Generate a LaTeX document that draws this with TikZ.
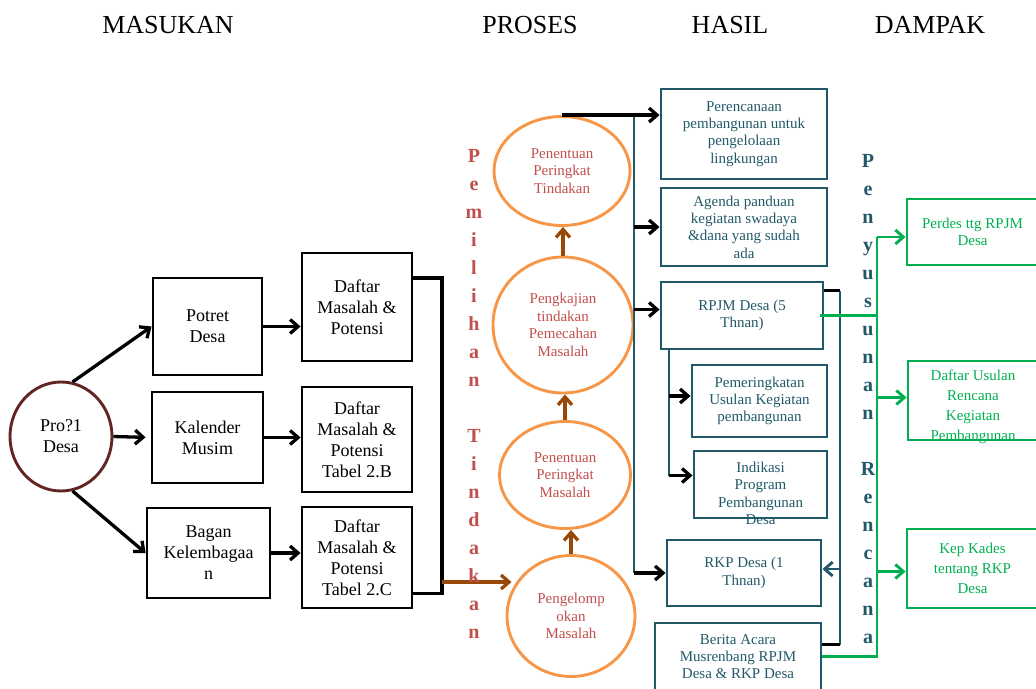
\documentclass[tikz,border=0pt]{standalone}
\usepackage{fontspec}
\setmainfont{Liberation Serif}
\usetikzlibrary{arrows.meta,shapes.geometric}

\definecolor{tealc}{HTML}{215968}
\definecolor{redc}{HTML}{C0504D}
\definecolor{orangec}{HTML}{F79646}
\definecolor{brownc}{HTML}{984807}
\definecolor{greenc}{HTML}{00B050}
\definecolor{circc}{HTML}{632523}

\tikzset{
  inbox/.style={draw, line width=2.9pt, inner sep=0pt, align=center, font=\fontsize{18}{21}\selectfont},
  procell/.style={ellipse, draw=orangec, line width=2.9pt, inner sep=0pt, align=center, text=redc, font=\fontsize{15}{17.5}\selectfont},
  outbox/.style={draw=tealc, line width=2.9pt, inner sep=0pt, align=center, text=tealc, font=\fontsize{15}{17.3}\selectfont},
  effbox/.style={draw=greenc, line width=2.9pt, inner sep=0pt, align=center, text=greenc, font=\fontsize{15}{20}\selectfont},
  head/.style={anchor=base, font=\fontsize{26}{30}\selectfont},
  vletter/.style={anchor=base, font=\fontsize{20}{20}\selectfont\bfseries},
  tip/.style={-{Straight Barb[length=8pt,width=14pt]}},
  blk/.style={line width=3.3pt, tip},
  bline/.style={line width=3.3pt},
  brn/.style={brownc, line width=3.3pt, tip},
  tline/.style={tealc, line width=2.9pt},
  gline/.style={greenc, line width=2.9pt},
}

\begin{document}
\begin{tikzpicture}[x=1pt, y=-1pt]
	\useasboundingbox (0,0) rectangle (1036,688);
	\clip (0,0) rectangle (1036,688);
	
	% column titles
	\node[head] (tMasukan) at (168,33) {MASUKAN};
	\node[head] (tProses) at (530,33) {PROSES};
	\node[head] (tHasil) at (730,33) {HASIL};
	\node[head] (tDampak) at (930,33) {DAMPAK};
	
	% masukan
	\node[ellipse, draw=circc, line width=2.9pt, inner sep=0pt, align=center, minimum width=102pt, minimum height=109pt, font=\fontsize{18}{21}\selectfont] (profil) at (61,436.5) {Pro?1\\Desa};
	\node[inbox, minimum width=109pt, minimum height=97pt] (potret) at (207.5,326.5) {Potret\\Desa};
	\node[inbox, minimum width=111pt, minimum height=91pt] (kalender) at (207.5,437.5) {Kalender\\Musim};
	\node[inbox, minimum width=123pt, minimum height=90pt] (bagan) at (208.5,553) {Bagan\\Kelembagaa\\n};
	\node[inbox, minimum width=110pt, minimum height=108pt] (daftarA) at (357,307) {Daftar\\Masalah \&\\Potensi};
	\node[inbox, minimum width=110pt, minimum height=105pt] (daftarB) at (357,439.5) {Daftar\\Masalah \&\\Potensi\\Tabel 2.B};
	\node[inbox, minimum width=110pt, minimum height=101pt] (daftarC) at (357,557.5) {Daftar\\Masalah \&\\Potensi\\Tabel 2.C};
	
	\draw[blk] (profil.78) -- (potret.west);
	\draw[blk, shorten >=5pt] (profil.east) -- (kalender.west);
	\draw[blk] (profil.-78) -- (bagan.west);
	\draw[blk] (potret.east) -- (potret.east -| daftarA.west);
	\draw[blk] (kalender.east) -- (kalender.east -| daftarB.west);
	\draw[blk] (bagan.east) -- (bagan.east -| daftarC.west);
	\coordinate (brk) at (442,582);
	\draw[bline] ([yshift=29pt]daftarA.east) -| ([yshift=-36pt]daftarC.east -| brk) -- ([yshift=-36pt]daftarC.east);
	
	% proses
	\node[procell, minimum width=136pt, minimum height=109pt] (tindakan) at (562,171) {Penentuan\\Peringkat\\Tindakan};
	\node[procell, minimum width=140pt, minimum height=136pt] (pengkajian) at (563,325) {Pengkajian\\tindakan\\Pemecahan\\Masalah};
	\node[procell, minimum width=131pt, minimum height=107pt] (pmasalah) at (565,475) {Penentuan\\Peringkat\\Masalah};
	\node[procell, minimum width=128pt, minimum height=121pt] (kelompok) at (571,616) {Pengelomp\\okan\\Masalah};
	
	\draw[brn] (brk) -- ([xshift=6pt]brk -| kelompok.west);
	\draw[brn] (kelompok.north) -- (kelompok.north |- pmasalah.south);
	\draw[brn] (pmasalah.north) -- (pmasalah.north |- pengkajian.south);
	\draw[brn] (pengkajian.north) -- (pengkajian.north |- tindakan.south);
	
	\foreach \ch [count=\i from 0] in {P,e,m,i,l,i,h,a,n}
	\node[vletter, text=redc] (pa\i) at (474,162+28*\i) {\ch};
	\foreach \ch [count=\i from 10] in {T,i,n,d,a,k,a,n}
	\node[vletter, text=redc] (pb\i) at (474,162+28*\i) {\ch};
	
	% hasil
	\node[outbox, minimum width=166pt, minimum height=90pt] (peren) at (744,134) {Perencanaan\\pembangunan untuk\\pengelolaan\\lingkungan};
	\node[outbox, minimum width=166pt, minimum height=78pt] (agenda) at (744,227) {Agenda panduan\\kegiatan swadaya\\\&dana yang sudah\\ada};
	\node[outbox, minimum width=162pt, minimum height=67pt] (rpjm) at (742,315.5) {RPJM Desa (5\\Thnan)};
	\node[outbox, minimum width=135pt, minimum height=72pt] (peringkat) at (759.5,401) {Pemeringkatan\\Usulan Kegiatan\\pembangunan};
	\node[outbox, minimum width=133pt, minimum height=67pt] (indikasi) at (760.5,484.5) {};
	\node[text=tealc, align=center, font=\fontsize{15}{17.3}\selectfont] (indikasiT) at ([yshift=-9pt]indikasi.center) {Indikasi\\Program\\Pembangunan\\Desa};
	\node[outbox, minimum width=154pt, minimum height=66pt] (rkp) at (744,573) {RKP Desa (1\\Thnan)};
	\node[outbox, minimum width=166pt, minimum height=67pt] (berita) at (738,656.5) {Berita Acara\\Musrenbang RPJM\\Desa \& RKP Desa};
	
	\coordinate (busA) at (634,0);
	\coordinate (busB) at (669,0);
	\coordinate (busC) at (840,0);
	\coordinate (busG) at (877,0);
	
	\draw[tline] (tindakan.north -| busA) -- (rkp.west -| busA);
	\draw[blk] (tindakan.north) -- (tindakan.north -| peren.west);
	\draw[blk] (agenda.west -| busA) -- (agenda.west);
	\draw[blk] ([yshift=6pt]rpjm.west -| busA) -- ([yshift=6pt]rpjm.west);
	\draw[blk] (rkp.west -| busA) -- (rkp.west);
	
	\draw[tline] (rpjm.south -| busB) -- ([yshift=9pt]indikasi.west -| busB);
	\draw[blk] ([yshift=5pt]peringkat.west -| busB) -- ([yshift=5pt]peringkat.west);
	\draw[blk] ([yshift=9pt]indikasi.west -| busB) -- ([yshift=9pt]indikasi.west);
	
	\draw[tline] ([yshift=25pt]rpjm.east -| busC) -- ([yshift=12pt]berita.east -| busC);
	\draw[bline] ([yshift=25pt]rpjm.east) -- ([yshift=25pt]rpjm.east -| busC);
	\draw[bline] ([yshift=12pt]berita.east) -- ([yshift=12pt]berita.east -| busC);
	\draw[tline, tip] ([yshift=4pt]rkp.east -| busC) -- ([yshift=4pt]rkp.east);
	
	\foreach \ch [count=\i from 0] in {P,e,n,y,u,s,u,n,a,n}
	\node[vletter, text=tealc] (pc\i) at (868,167+28*\i) {\ch};
	\foreach \ch [count=\i from 11] in {R,e,n,c,a,n,a}
	\node[vletter, text=tealc] (pd\i) at (868,167+28*\i) {\ch};
	
	% dampak
	\node[effbox, minimum width=131pt, minimum height=66pt, font=\fontsize{15}{17}\selectfont] (perdes) at (972.5,232) {Perdes ttg RPJM\\Desa};
	\node[effbox, minimum width=130pt, minimum height=79pt] (usulan) at (973,400.5) {};
	\node[text=greenc, align=center, font=\fontsize{15}{20}\selectfont] (usulanT) at ([yshift=-6pt]usulan.center) {Daftar Usulan\\Rencana\\Kegiatan\\Pembangunan};
	\node[effbox, minimum width=131pt, minimum height=79pt] (kepkades) at (972.5,568.5) {Kep Kades\\tentang RKP\\Desa};
	
	\draw[gline] ([xshift=-4pt]rpjm.east) -- (rpjm.east -| busG);
	\draw[gline] (berita.east) -| ([yshift=-5pt]perdes.west -| busG);
	\draw[gline, tip] ([yshift=-5pt]perdes.west -| busG) -- ([yshift=-5pt]perdes.west);
	\draw[gline, tip] ([yshift=3pt]usulan.west -| busG) -- ([yshift=3pt]usulan.west);
	\draw[gline, tip] ([yshift=-3pt]kepkades.west -| busG) -- ([yshift=-3pt]kepkades.west);
\end{tikzpicture}
\end{document}
